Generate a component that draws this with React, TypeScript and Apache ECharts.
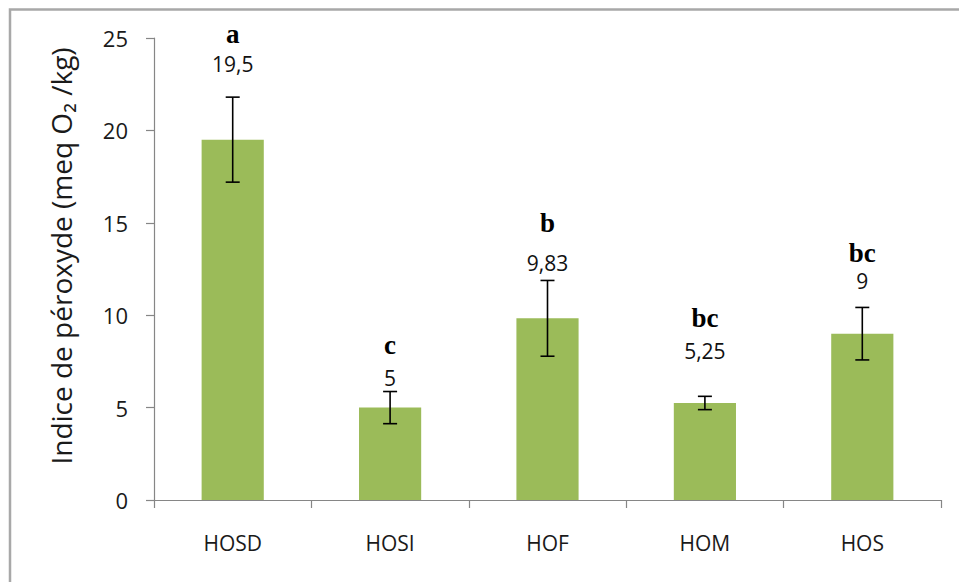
import React, { useEffect, useRef } from "react";
import * as echarts from "echarts";

// Peroxide index per oil sample
const categories = ["HOSD", "HOSI", "HOF", "HOM", "HOS"];
const means = [19.5, 5, 9.83, 5.25, 9];
const deviations = [2.3, 0.87, 2.05, 0.36, 1.42];
const valueLabels = ["19,5", "5", "9,83", "5,25", "9"];
const groupLetters = ["a", "c", "b", "bc", "bc"];
const yTicks = { min: 0, max: 25, interval: 5 };

// pixel lift of the value label and the letter above each error bar's top
const valueLift = [33, 14, 17.5, 45, 26];
const letterLift = [63, 46.5, 57, 78, 54.5];

export default function App() {
  const ref = useRef<HTMLDivElement>(null);

  useEffect(() => {
    if (!ref.current) return;
    const chart = echarts.init(ref.current, null, { renderer: "svg" });

    const errData = categories.map((_, i) => [i, means[i], deviations[i]]);

    chart.setOption({
      animation: false,
      backgroundColor: "#ffffff",
      grid: { left: 154, right: 18, top: 38, bottom: 82 },
      graphic: [
        {
          type: "rect",
          shape: { x: 10, y: 9.5, width: 1000, height: 700 },
          style: { fill: "none", stroke: "#a8a8a8", lineWidth: 2.5 },
          silent: true,
        },
      ],
      xAxis: {
        type: "category",
        data: categories,
        axisLine: { lineStyle: { color: "#868686", width: 1.2 } },
        axisTick: { show: true, length: 8, lineStyle: { color: "#868686", width: 1.2 } },
        axisLabel: {
          margin: 32,
          color: "#1a1a1a",
          fontSize: 21,
          fontFamily: "Open Sans",
        },
      },
      yAxis: {
        type: "value",
        min: yTicks.min,
        max: yTicks.max,
        interval: yTicks.interval,
        name: "Indice de péroxyde (meq O\u2082 /kg)",
        nameLocation: "middle",
        nameGap: 79,
        nameTextStyle: {
          fontSize: 28,
          color: "#1a1a1a",
          fontFamily: "Open Sans",
          padding: [0, 0, 0, 26],
        },
        axisLine: { show: true, lineStyle: { color: "#868686", width: 1.2 } },
        axisTick: { show: true, length: 8, lineStyle: { color: "#868686", width: 1.2 } },
        axisLabel: {
          margin: 26,
          color: "#1a1a1a",
          fontSize: 22,
          fontFamily: "Open Sans",
        },
        splitLine: { show: false },
      },
      series: [
        {
          type: "bar",
          data: means,
          barWidth: "39.5%",
          itemStyle: { color: "#9bbb59" },
        },
        {
          type: "custom",
          data: errData,
          z: 10,
          renderItem: (params: any, api: any) => {
            const i = api.value(0);
            const m = api.value(1);
            const sd = api.value(2);
            const top = api.coord([i, m + sd]);
            const bot = api.coord([i, m - sd]);
            const x = top[0];
            const cap = 7;
            const lineStyle = { stroke: "#000", lineWidth: 1.6 };
            return {
              type: "group",
              children: [
                { type: "line", shape: { x1: x, y1: top[1], x2: x, y2: bot[1] }, style: lineStyle },
                { type: "line", shape: { x1: x - cap, y1: top[1], x2: x + cap, y2: top[1] }, style: lineStyle },
                { type: "line", shape: { x1: x - cap, y1: bot[1], x2: x + cap, y2: bot[1] }, style: lineStyle },
                {
                  type: "text",
                  style: {
                    text: valueLabels[i],
                    x,
                    y: top[1] - valueLift[i],
                    textAlign: "center",
                    textVerticalAlign: "middle",
                    fill: "#111",
                    font: "21px 'Open Sans'",
                  },
                },
                {
                  type: "text",
                  style: {
                    text: groupLetters[i],
                    x,
                    y: top[1] - letterLift[i],
                    textAlign: "center",
                    textVerticalAlign: "middle",
                    fill: "#000",
                    font: "bold 27px 'Liberation Serif'",
                  },
                },
              ],
            };
          },
        },
      ],
    });

    return () => chart.dispose();
  }, []);

  return (
    <div
      ref={ref}
      style={{ position: "absolute", left: 0, top: 0, width: 959, height: 582 }}
    />
  );
}
